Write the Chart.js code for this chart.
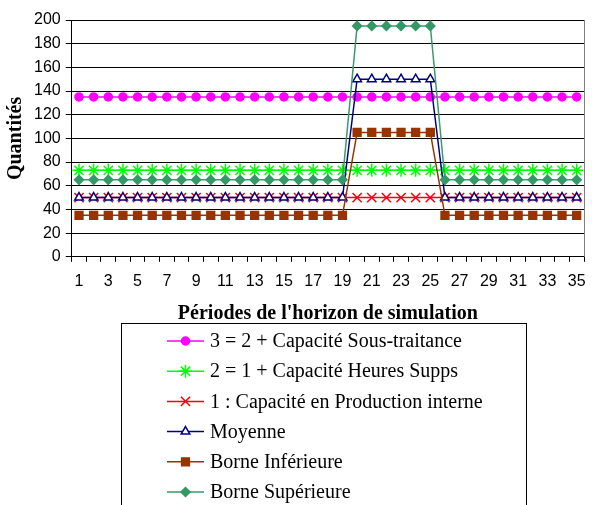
<!DOCTYPE html>
<html>
<head>
<meta charset="utf-8">
<script src="https://cdn.jsdelivr.net/npm/chart.js@4.4.0/dist/chart.umd.min.js"></script>
<style>
  html, body { margin: 0; padding: 0; background: #fff; }
  #wrap { width: 592px; height: 505px; }
</style>
</head>
<body>
<div id="wrap"><canvas id="chart" width="592" height="505"></canvas></div>
<script>
// Périodes (catégories)
const periodes = ['1','2','3','4','5','6','7','8','9','10','11','12','13','14','15','16','17','18',
  '19','20','21','22','23','24','25','26','27','28','29','30','31','32','33','34','35'];

// Séries
const sousTraitance = [135,135,135,135,135,135,135,135,135,135,135,135,135,135,135,135,135,135,
  135,135,135,135,135,135,135,135,135,135,135,135,135,135,135,135,135];
const heuresSupps = [73,73,73,73,73,73,73,73,73,73,73,73,73,73,73,73,73,73,
  73,73,73,73,73,73,73,73,73,73,73,73,73,73,73,73,73];
const prodInterne = [50,50,50,50,50,50,50,50,50,50,50,50,50,50,50,50,50,50,
  50,50,50,50,50,50,50,50,50,50,50,50,50,50,50,50,50];
const moyenne = [50,50,50,50,50,50,50,50,50,50,50,50,50,50,50,50,50,50,
  50,150,150,150,150,150,150,50,50,50,50,50,50,50,50,50,50];
const borneInf = [35,35,35,35,35,35,35,35,35,35,35,35,35,35,35,35,35,35,
  35,105,105,105,105,105,105,35,35,35,35,35,35,35,35,35,35];
const borneSup = [65,65,65,65,65,65,65,65,65,65,65,65,65,65,65,65,65,65,
  65,195,195,195,195,195,195,65,65,65,65,65,65,65,65,65,65];

const yTicks = [0, 20, 40, 60, 80, 100, 120, 140, 160, 180, 200];

// Cadre : bord droit gris
const frame = {
  id: 'frame',
  afterDraw(chart) {
    const { ctx, chartArea: a } = chart;
    ctx.save();
    ctx.strokeStyle = '#808080';
    ctx.lineWidth = 1;
    ctx.beginPath();
    ctx.moveTo(Math.round(a.right) + 0.5, a.top);
    ctx.lineTo(Math.round(a.right) + 0.5, a.bottom);
    ctx.stroke();
    ctx.restore();
  }
};

// Légende encadrée sous l'axe, une série par ligne
const boxLegend = {
  id: 'boxLegend',
  afterDraw(chart) {
    const ctx = chart.ctx;
    const left = 121.5, top = 323.5, right = 526.5;
    ctx.save();
    ctx.strokeStyle = '#000';
    ctx.lineWidth = 1;
    ctx.strokeRect(left, top, right - left, 200);
    ctx.font = '20px "Liberation Serif", "Times New Roman", serif';
    ctx.textBaseline = 'middle';
    ctx.textAlign = 'left';
    chart.data.datasets.forEach((ds, i) => {
      const y = 341 + i * 30.2;
      ctx.strokeStyle = ds.borderColor;
      ctx.lineWidth = ds.borderWidth;
      ctx.beginPath();
      ctx.moveTo(167, y);
      ctx.lineTo(204, y);
      ctx.stroke();
      ctx.fillStyle = ds.pointBackgroundColor;
      ctx.strokeStyle = ds.pointBorderColor;
      ctx.lineWidth = ds.pointBorderWidth;
      Chart.helpers.drawPoint(ctx, {
        pointStyle: ds.pointStyle,
        radius: ds.pointRadius,
        borderWidth: ds.pointBorderWidth,
        rotation: 0
      }, 185.5, y);
      ctx.fillStyle = '#000';
      ctx.fillText(ds.label, 210, y + 1);
    });
    ctx.restore();
  }
};

const serie = (label, data, line, point, style, radius, fill, order) => ({
  label: label,
  data: data,
  borderColor: line,
  borderWidth: 1.5,
  pointStyle: style,
  pointRadius: radius,
  pointHoverRadius: radius,
  pointBackgroundColor: fill,
  pointBorderColor: point,
  pointBorderWidth: 1.5,
  tension: 0,
  order: order
});

new Chart(document.getElementById('chart'), {
  type: 'line',
  data: {
    labels: periodes,
    datasets: [
      serie('3 = 2 + Capacité Sous-traitance', sousTraitance, '#ff00ff', '#ff00ff', 'circle', 4, '#ff00ff', 6),
      serie('2 = 1 + Capacité Heures Supps', heuresSupps, '#00ff00', '#00ff00', 'star', 6.5, '#00ff00', 5),
      serie('1 : Capacité en Production interne', prodInterne, '#ff0000', '#ff0000', 'crossRot', 6.5, '#ff0000', 4),
      serie('Moyenne', moyenne, '#000080', '#000080', 'triangle', 5, '#ffffff', 3),
      serie('Borne Inférieure', borneInf, '#993300', '#993300', 'rect', 5.5, '#993300', 2),
      serie('Borne Supérieure', borneSup, '#3a9a6a', '#339966', 'rectRot', 4.5, '#339966', 1)
    ]
  },
  options: {
    responsive: false,
    animation: false,
    layout: { padding: { top: 20, right: 0, left: 4, bottom: 179 } },
    plugins: {
      legend: { display: false },
      tooltip: { enabled: false }
    },
    scales: {
      x: {
        offset: true,
        afterFit: (axis) => { axis.paddingRight = 0; },
        border: { color: '#000', width: 1 },
        grid: { drawOnChartArea: false, drawTicks: true, tickLength: 5, color: '#000', offset: true },
        ticks: {
          autoSkip: false,
          maxRotation: 0,
          color: '#000',
          padding: 10,
          font: { family: '"Liberation Sans", Arial, sans-serif', size: 16 },
          callback: function (value, index) {
            return index % 2 === 0 ? this.getLabelForValue(value) : '';
          }
        },
        title: {
          display: true,
          text: "Périodes de l'horizon de simulation",
          color: '#000',
          font: { family: '"Liberation Serif", "Times New Roman", serif', size: 20, weight: 'bold' },
          padding: { top: 1, bottom: 0 }
        }
      },
      y: {
        min: 0,
        max: 200,
        afterBuildTicks: (axis) => { axis.ticks = yTicks.map(v => ({ value: v })); },
        border: { color: '#000', width: 1 },
        grid: { color: '#000', lineWidth: 1, tickLength: 6 },
        ticks: {
          color: '#000',
          padding: 5,
          font: { family: '"Liberation Sans", Arial, sans-serif', size: 16 }
        },
        title: {
          display: true,
          text: 'Quantités',
          color: '#000',
          font: { family: '"Liberation Serif", "Times New Roman", serif', size: 20, weight: 'bold' },
          padding: { top: 0, bottom: 1 }
        }
      }
    }
  },
  plugins: [frame, boxLegend]
});
</script>
</body>
</html>
